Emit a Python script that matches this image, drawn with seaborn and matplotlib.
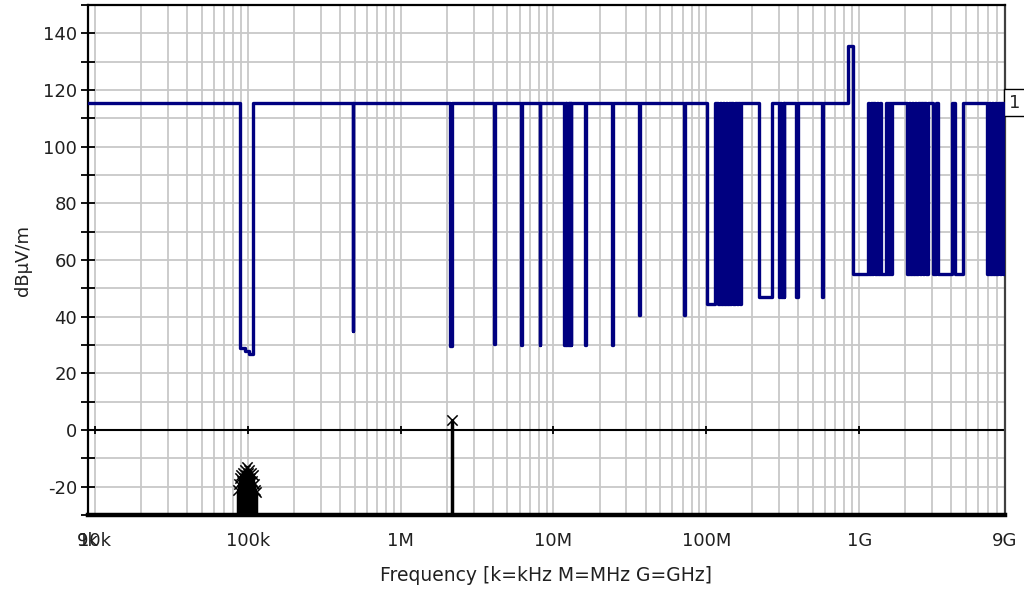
import matplotlib
matplotlib.use("Agg")
import matplotlib.pyplot as plt
import matplotlib.ticker as mticker
import pandas as pd
import seaborn as sns

H = 115.5  # resting level of trace 1

# trace 1 (navy), step line: frequency [Hz] where a level starts, and the level [dBuV/m]
trace_freq = [
    9e3, 88.6e3, 95.6e3, 101.5e3, 107.8e3,
    485e3, 490e3,
    2.09e6, 2.16e6,
    4.06e6, 4.12e6,
    6.10e6, 6.22e6,
    8.13e6, 8.22e6,
    11.8e6, 11.9e6, 12.05e6, 12.15e6, 12.3e6, 12.4e6, 12.55e6, 12.65e6, 12.8e6, 12.9e6, 13.0e6, 13.1e6,
    16.0e6, 16.25e6,
    24.3e6, 24.6e6,
    36.5e6, 36.9e6,
    71.8e6, 72.8e6,
    101.5e6, 114.5e6, 119.8e6, 122e6, 125e6, 128e6, 131e6, 134e6, 137e6, 140e6,
    143e6, 146e6, 150e6, 154e6, 158e6, 162e6, 166e6, 169e6,
    222e6, 270e6,
    300e6, 305e6, 310e6, 316e6, 320e6, 324e6,
    388e6, 395e6,
    574e6, 580e6,
    847e6, 905e6,
    1.145e9, 1.165e9, 1.19e9, 1.21e9, 1.235e9, 1.265e9, 1.312e9, 1.33e9, 1.36e9, 1.393e9,
    1.502e9, 1.52e9, 1.545e9, 1.565e9, 1.59e9, 1.61e9, 1.64e9,
    2.06e9, 2.11e9, 2.16e9, 2.21e9, 2.26e9, 2.32e9, 2.37e9, 2.43e9, 2.49e9, 2.55e9, 2.61e9,
    2.67e9, 2.74e9, 2.80e9,
    3.05e9, 3.19e9, 3.29e9, 4.06e9, 4.25e9, 4.79e9,
    6.88e9, 7.04e9, 7.2e9, 7.37e9, 7.55e9, 7.73e9, 7.91e9, 8.1e9, 8.29e9, 8.49e9, 8.69e9, 8.9e9, 9e9,
]
trace_level = [
    H, 29, 28, 27, H,
    35, H,
    29.5, H,
    30.5, H,
    30, H,
    30, H,
    30, H, 30, H, 30, H, 30, H, 30, H, 30, H,
    30, H,
    30, H,
    40.5, H,
    40.5, H,
    44.5, H, 44.5, H, 44.5, H, 44.5, H, 44.5, H,
    44.5, H, 44.5, H, 44.5, H, 44.5, H,
    47, H,
    47, H, 47, H, 47, H,
    47, H,
    47, H,
    135.5, 55,
    H, 55, H, 55, H, 55, H, 55, H, 55,
    H, 55, H, 55, H, 55, H,
    55, H, 55, H, 55, H, 55, H, 55, H, 55,
    H, 55, H,
    55, H, 55, H, 55, H,
    55, H, 55, H, 55, H, 55, H, 55, H, 55, H, H,
]

# black trace: peaks [Hz, dBuV/m] standing on the bottom of the scale
peak_freq = [86e3, 87.5e3, 89e3, 90.5e3, 92e3, 93.5e3, 95e3, 96.5e3, 98e3, 99.5e3,
             101e3, 102.5e3, 104e3, 105.5e3, 107e3, 108.5e3, 110e3, 111.5e3, 113e3, 2.17e6]
peak_level = [-21, -19, -17, -16, -18, -15, -17, -14, -16, -13,
              -15, -14, -17, -15, -18, -16, -19, -21, -22, 3.5]

x_ticks = [9e3, 1e4, 1e5, 1e6, 1e7, 1e8, 1e9, 9e9]
x_labels = ["9k", "10k", "100k", "1M", "10M", "100M", "1G", "9G"]
decades = [1e4, 1e5, 1e6, 1e7, 1e8, 1e9]

sns.set_style("white")
plt.rcParams["font.family"] = ["DejaVu Sans"]
plt.rcParams["axes.unicode_minus"] = False

trace = pd.DataFrame({"freq": trace_freq, "level": trace_level})

fig = plt.figure(figsize=(10.24, 6), dpi=100)
ax = fig.add_axes([88 / 1024, 85 / 600, (1005 - 88) / 1024, 510 / 600])
ax.set_xscale("log")

# grid
ax.xaxis.set_minor_locator(mticker.LogLocator(base=10, subs=range(2, 10)))
ax.xaxis.set_minor_formatter(mticker.NullFormatter())
ax.set_xticks(x_ticks, x_labels)
ax.set_yticks(range(-20, 141, 20))
ax.yaxis.set_minor_locator(mticker.MultipleLocator(10))
ax.grid(which="both", color="#c8c8c8", lw=1.3)
ax.set_axisbelow(True)

# zero line with small ticks at every decade
ax.axhline(0, color="black", lw=1.5, zorder=2)
ax.plot(decades, [0] * len(decades), ls="none", marker="|", ms=6, mew=1.3,
        color="black", zorder=2)

# black trace
ax.vlines(peak_freq, -30, peak_level, color="black", lw=2.5, zorder=3)
sns.scatterplot(x=peak_freq, y=peak_level, marker="x", color="black", s=55,
                linewidth=1.1, ax=ax, zorder=4, legend=False)

# trace 1
sns.lineplot(data=trace, x="freq", y="level", drawstyle="steps-post", color="#000080",
             lw=2.4, estimator=None, sort=False, ax=ax, zorder=5)

ax.set_xlim(9e3, 9e9)
ax.set_ylim(-30, 150)

ax.spines["bottom"].set_linewidth(3.2)
ax.spines["left"].set_linewidth(1.6)
ax.spines["top"].set_linewidth(1.6)
ax.spines["right"].set_linewidth(1.6)
ax.spines["right"].set_color("#404040")
ax.spines["bottom"].set_color("black")
ax.spines["left"].set_color("black")
ax.spines["top"].set_color("black")

ax.tick_params(axis="x", which="both", length=0, pad=12, labelsize=13, labelcolor="#202020")
ax.tick_params(axis="y", which="both", direction="inout", length=10, width=1.3,
               color="black", pad=3, labelsize=13, labelcolor="#202020", left=True)

ax.set_xlabel("Frequency [k=kHz M=MHz G=GHz]", fontsize=13.5, labelpad=12, color="#202020")
ax.set_ylabel("dBµV/m", fontsize=13, labelpad=8, color="#202020")

# trace marker at the right edge
ax.text(1.004, H, "1", transform=ax.get_yaxis_transform(), ha="left", va="center",
        fontsize=13, clip_on=False,
        bbox=dict(boxstyle="square,pad=0.25", fc="white", ec="black", lw=1))

fig.savefig("out.png", dpi=100)
